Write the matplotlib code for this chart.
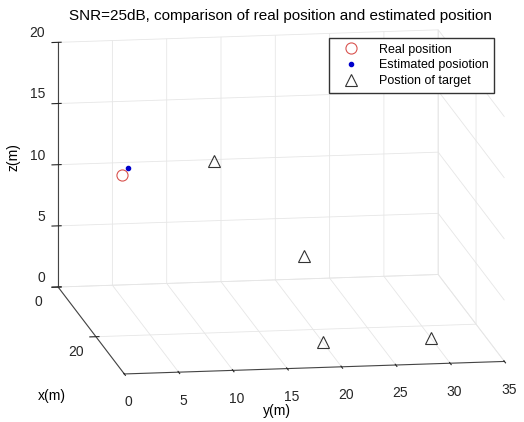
import numpy as np
import matplotlib.pyplot as plt

plt.rcParams['font.family'] = ['Liberation Sans', 'DejaVu Sans']

# positions (x, y, z) in metres
real_pos = [5.0, 5.0, 10.0]
est_pos = [5.0, 5.6, 10.6]
target_x = [2, 15, 25, 25]
target_y = [14, 20, 20, 30]
target_z = [10.3, 5, 0, 0]

x_ticks = [0, 20]
y_ticks = [0, 5, 10, 15, 20, 25, 30, 35]
z_ticks = [0, 5, 10, 15, 20]

fig = plt.figure(figsize=(5.24, 4.22), dpi=100)
ax = fig.add_axes([0.005, -0.033, 1.04, 1.08], projection='3d', proj_type='ortho')

ax.plot([real_pos[0]], [real_pos[1]], [real_pos[2]], 'o', mfc='none', mec='#d9534f',
        ms=8, mew=0.8, label='Real position')
ax.plot([est_pos[0]], [est_pos[1]], [est_pos[2]], '.', color='#0000cc',
        ms=6, label='Estimated posiotion')
ax.plot(target_x, target_y, target_z, '^', mfc='none', mec='#333333',
        ms=9, mew=0.8, ls='none', label='Postion of target')

ax.set_xlim(0, 35)
ax.set_ylim(0, 35)
ax.set_zlim(0, 20)
ax.set_xticks(x_ticks)
ax.set_yticks(y_ticks)
ax.set_zticks(z_ticks)
ax.tick_params(labelsize=10, colors='#262626')
ax.tick_params(axis='x', pad=1)
ax.tick_params(axis='y', pad=3)
ax.tick_params(axis='z', pad=-3)
ax.zaxis.set_ticks_position('lower')
ax.zaxis.set_label_position('lower')
plt.setp(ax.get_zticklabels(), va='bottom', ha='right')
plt.setp(ax.get_xticklabels(), va='center_baseline')
ax.set_zlabel('z(m)', fontsize=10, rotation=90, labelpad=-4)
fig.text(0.099, 0.062, 'x(m)', fontsize=10, ha='center', va='center')
fig.text(0.529, 0.026, 'y(m)', fontsize=10, ha='center', va='center')

ax.view_init(elev=12, azim=-9, roll=0)
ax.set_box_aspect((1.1, 1.0, 0.65), zoom=1.33)

for axis in (ax.xaxis, ax.yaxis, ax.zaxis):
    axis.set_pane_color((1, 1, 1, 0))
    axis.pane.set_edgecolor('#e6e6e6')
    axis._axinfo['grid']['color'] = '#e6e6e6'
    axis._axinfo['grid']['linewidth'] = 0.6
    axis.line.set_color('#444444')
    axis.line.set_linewidth(0.8)

fig.suptitle('SNR=25dB, comparison of real position and estimated position',
             fontsize=11, x=0.535, y=0.978)
ax.legend(loc='upper right', bbox_to_anchor=(0.943, 0.91),
          bbox_transform=fig.transFigure, fontsize=9, borderaxespad=0,
          labelspacing=0.3, borderpad=0.45, handlelength=2.6, handletextpad=0.9,
          fancybox=False, edgecolor='#333333', framealpha=1)

fig.savefig('out.png', dpi=100)
